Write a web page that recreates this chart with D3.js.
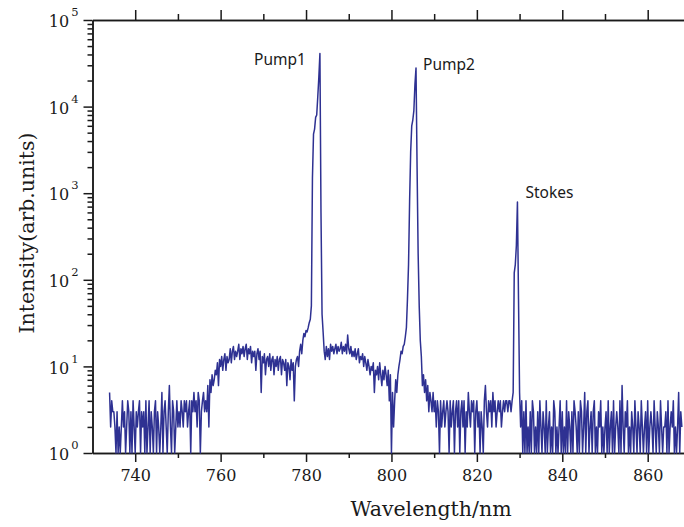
<!DOCTYPE html>
<html>
<head>
<meta charset="utf-8">
<script src="https://cdn.jsdelivr.net/npm/d3@7"></script>
<style>
body { margin: 0; background: #fff; }
svg { display: block; }
.axis path, .axis line { stroke: #1a1a1a; stroke-width: 1.5; }
.axis text { font-family: "DejaVu Serif", serif; font-size: 16px; fill: #1a1a1a; }
.title { font-family: "DejaVu Serif", serif; font-size: 20.5px; fill: #1a1a1a; }
.note { font-family: "Noto Sans", sans-serif; font-size: 15.5px; fill: #1a1a1a; }
</style>
</head>
<body>
<svg id="chart" width="684" height="527"></svg>
<script>
// spectrum sampled every 0.25 nm starting at 734 nm
var wlStart = 734;
var wlStep = 0.25;
var intensity = [
	5,2,4,3, 3,2,1,3, 1,2,1,2, 4,2,3,1, 2,4,3,1,            // 734-738
	3,1,4,2, 1,3,2,3, 4,1,3,2, 3,1,4,1, 2,4,1,3,            // 739-743
	2,1,3,4, 1,3,2,1, 2,5,1,3, 4,2,1,3, 6,2,1,4,            // 744-748
	3,1,2,4, 2,3,2,4, 3,2,4,3, 4,2,3,4, 1,4,3,5,            // 749-753
	3,4,2,5, 4,1,3,4, 5,3,4,3, 6,2,7,5, 8,6,7,9,            // 754-758
	8,11,6,12, 10,13,9,12, 14,9,13,11, 12,16,11,15, 17,12,15,13,   // 759-763
	15,18,12,16, 14,17,13,16, 18,12,16,14, 17,11,15,13, 15,9,14,16, // 764-768
	12,15,5,13, 11,14,8,12, 13,10,14,9, 12,13,8,12, 10,13,9,12,    // 769-773
	13,8,12,11, 9,12,6,11, 10,7,12,9, 11,4,10,12, 13,10,15,18,     // 774-778
	14,20,24,22, 26,25,28,32, 35,50,1500,4800,                     // 779-781
	5500,7500,8000,13000, 22000,41000,600,40,                      // 782-783 (Pump1)
	25,15,12,17, 13,16,12,18, 15,17,14,16, 18,14,17,15,            // 784-787
	16,19,14,17, 15,18,14,23, 16,14,17,13, 15,13,16,12,            // 788-791
	14,16,11,13, 12,14,10,13, 11,9,12,10, 8,10,9,11,               // 792-795
	5,9,8,10, 7,11,8,6, 9,7,10,8, 6,9,4,8, 1,5,2,4,                // 796-800
	7,5,8,10, 12,15,14,17, 18,22,28,60,                            // 801-803
	150,800,3000,6000, 7000,9000,18000,27900, 2000,200,50,20,      // 804-806 (Pump2)
	13,6,8,5, 7,4,6,3, 5,4,3,5, 3,4,2,4, 3,1,4,2,                  // 807-811
	3,4,2,3, 4,3,1,4, 2,3,4,1, 3,4,2,4, 1,3,4,2,                   // 812-816
	4,1,3,2, 5,3,2,4, 3,4,1,3, 4,2,3,1, 3,2,1,4,                   // 817-821
	6,3,2,4, 3,4,2,5, 3,4,2,3, 4,3,4,2, 3,4,3,4,                   // 822-826
	4,3,4,4, 3,4,5,120, 150,250,790,60, 5,2,4,1,                   // 827-830 (Stokes)
	3,1,4,1, 2,1,3,1, 4,3,1,2, 1,3,1,4, 2,1,3,2,                   // 831-835
	1,4,1,2, 3,1,2,1, 4,3,1,2, 1,2,4,1, 3,1,2,1,                   // 836-840
	4,1,3,2, 1,3,1,4, 3,2,1,3, 1,4,3,1, 2,5,1,3,                   // 841-845
	4,1,2,3, 1,3,4,1, 2,1,3,2, 4,1,2,1, 2,3,1,4,                   // 846-850
	1,2,3,1, 4,1,2,3, 2,1,4,1, 6,2,1,3, 2,4,1,2,                   // 851-855
	1,3,2,1, 4,2,1,3, 2,1,4,2, 1,2,3,1, 4,1,2,3,                   // 856-860
	2,1,4,2, 1,3,2,1, 4,2,1,2, 2,3,1,4, 1,2,3,2,                   // 861-865
	4,1,2,1, 2,5,1,3, 2                                            // 866-868
];

var xMajor = [740, 760, 780, 800, 820, 840, 860];
var xMinor = [750, 770, 790, 810, 830, 850];
var yMajor = [1, 10, 100, 1000, 10000, 100000];
var peakLabels = ['Pump1', 'Pump2', 'Stokes'];
var peakAt = [783.25, 805.75, 829.5];
var peakVal = [41000, 27900, 790];

var svg = d3.select('#chart');
var plotL = 92.5, plotR = 684, plotT = 20, plotB = 453;

var x = d3.scaleLinear().domain([730, 868.5]).range([plotL, plotR]);
var y = d3.scaleLog().domain([1, 1e5]).range([plotB, plotT]);

var yMinor = [];
yMajor.slice(0, -1).forEach(function(d) {
	for (var k = 2; k <= 9; k++) yMinor.push(d * k);
});

// bottom axis
svg.append('g').attr('class', 'axis')
	.attr('transform', 'translate(0,' + plotB + ')')
	.call(d3.axisBottom(x).tickValues(xMinor).tickSize(5).tickSizeOuter(0).tickFormat(''));
svg.append('g').attr('class', 'axis')
	.attr('transform', 'translate(0,' + plotB + ')')
	.call(d3.axisBottom(x).tickValues(xMajor).tickSize(9).tickPadding(8).tickSizeOuter(0).tickFormat(d3.format('d')));

// top axis
svg.append('g').attr('class', 'axis')
	.attr('transform', 'translate(0,' + plotT + ')')
	.call(d3.axisTop(x).tickValues(xMinor).tickSize(6).tickSizeOuter(0).tickFormat(''));
svg.append('g').attr('class', 'axis')
	.attr('transform', 'translate(0,' + plotT + ')')
	.call(d3.axisTop(x).tickValues(xMajor).tickSize(10).tickSizeOuter(0).tickFormat(''));

// left axis
svg.append('g').attr('class', 'axis')
	.attr('transform', 'translate(' + plotL + ',0)')
	.call(d3.axisLeft(y).tickValues(yMinor).tickSize(5).tickSizeOuter(0).tickFormat(''));
var yAx = svg.append('g').attr('class', 'axis')
	.attr('transform', 'translate(' + plotL + ',0)')
	.call(d3.axisLeft(y).tickValues(yMajor).tickSize(9).tickPadding(5).tickSizeOuter(0).tickFormat(function() { return '10'; }));
yAx.selectAll('.tick text')
	.attr('dy', '0.42em')
	.append('tspan')
	.attr('dx', 2)
	.attr('dy', -11)
	.style('font-size', '11.5px')
	.text(function(d) { return Math.round(Math.log10(d)); });

// spectrum
var line = d3.line()
	.x(function(d, i) { return x(wlStart + i * wlStep); })
	.y(function(d) { return y(d); });

svg.append('path')
	.datum(intensity)
	.attr('fill', 'none')
	.attr('stroke', '#2e3192')
	.attr('stroke-width', 1.5)
	.attr('stroke-linejoin', 'round')
	.attr('d', line);

// peak labels
var offs = [[-14, 11, 'end'], [7, 2, 'start'], [8, -4, 'start']];
peakLabels.forEach(function(t, i) {
	svg.append('text').attr('class', 'note')
		.attr('x', x(peakAt[i]) + offs[i][0])
		.attr('y', y(peakVal[i]) + offs[i][1])
		.attr('text-anchor', offs[i][2])
		.text(t);
});

// axis titles
svg.append('text').attr('class', 'title')
	.attr('x', 431).attr('y', 516)
	.attr('text-anchor', 'middle')
	.text('Wavelength/nm');
svg.append('text').attr('class', 'title')
	.attr('transform', 'translate(34,233) rotate(-90)')
	.attr('text-anchor', 'middle')
	.text('Intensity(arb.units)');
</script>
</body>
</html>
